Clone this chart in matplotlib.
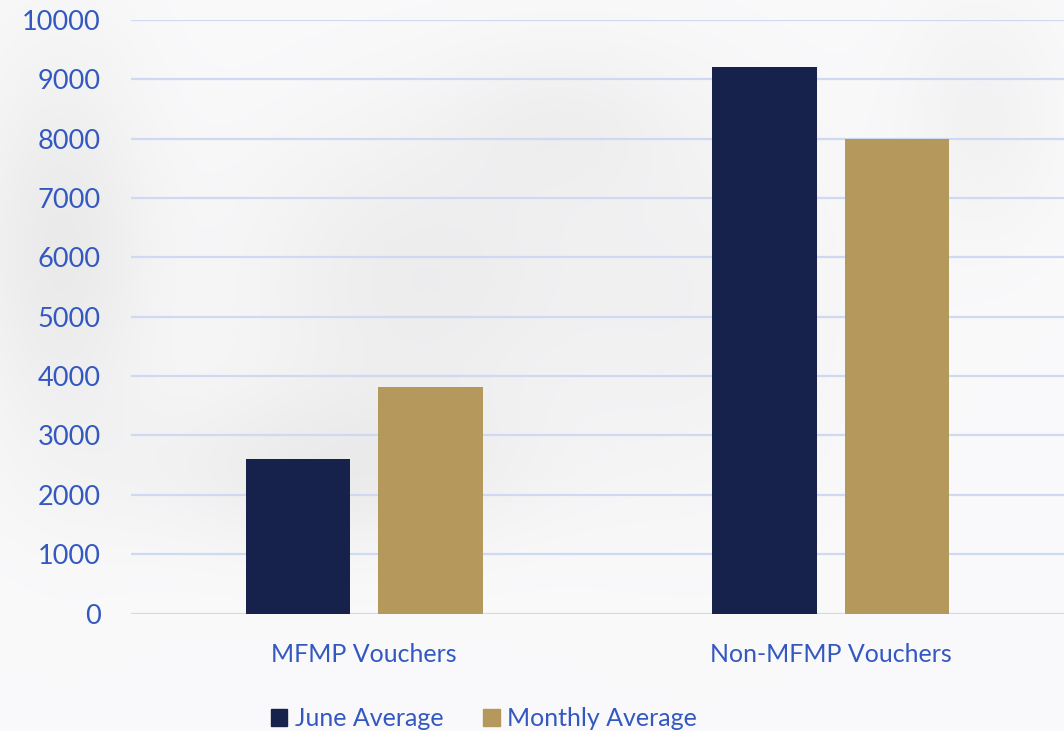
import numpy as np
from matplotlib import pyplot as plt
from matplotlib.patches import Patch

categories = ['MFMP Vouchers', 'Non-MFMP Vouchers']
june_average = [2600, 9210]
monthly_average = [3810, 7990]
series_names = ['June Average', 'Monthly Average']
y_ticks = list(range(0, 10001, 1000))

NAVY = '#16224c'
GOLD = '#b5985c'
TEXT = '#3358c0'
GRID = '#cfdaf2'

plt.rcParams['font.family'] = ['Lato', 'DejaVu Sans']

fig = plt.figure(figsize=(10.64, 7.31), dpi=100)

# soft blurry backdrop, roughly like the photo behind the original chart
h, w = 731, 1064
yy, xx = np.mgrid[0:h, 0:w]
bg = np.full((h, w), 0.98)
for cx, cy, sx, sy, depth in [(60, 250, 90, 200, 0.06), (420, 280, 180, 160, 0.05),
                              (700, 300, 140, 200, 0.03), (330, 470, 200, 80, 0.05),
                              (980, 120, 80, 120, 0.03), (560, 120, 120, 80, 0.03)]:
    bg -= depth * np.exp(-(((xx - cx) / sx) ** 2 + ((yy - cy) / sy) ** 2))
bg_rgb = np.dstack([bg, bg, bg * 1.005]).clip(0, 1)
fig.figimage(bg_rgb, xo=0, yo=0, origin='upper', zorder=-10)

ax = fig.add_axes([131 / 1064, (731 - 613.5) / 731, 1 - 131 / 1064, 593.5 / 731])
ax.patch.set_alpha(0)

x = np.arange(len(categories))
bar_w = 0.225
off = 0.142
ax.bar(x - off, june_average, bar_w, color=NAVY, zorder=3)
ax.bar(x + off, monthly_average, bar_w, color=GOLD, zorder=3)

ax.set_xlim(-0.5, 1.5)
ax.set_ylim(0, 10000)
ax.set_yticks(y_ticks)
ax.set_yticklabels([str(v) for v in y_ticks])
ax.set_xticks(x)
ax.set_xticklabels(categories)
ax.tick_params(axis='y', length=0, pad=22, labelsize=19.5, labelcolor=TEXT)
ax.tick_params(axis='x', length=0, pad=21, labelsize=18, labelcolor=TEXT)
ax.grid(axis='y', color=GRID, linewidth=1.6, zorder=0)
for s in ax.spines.values():
    s.set_visible(False)

handles = [Patch(color=NAVY), Patch(color=GOLD)]
fig.legend(handles, series_names, loc='center', bbox_to_anchor=(0.455, 0.017),
           ncol=2, frameon=False, fontsize=18, labelcolor=TEXT,
           handlelength=0.65, handleheight=0.65, handletextpad=0.3, columnspacing=1.6)

fig.savefig('out.png', dpi=100)
